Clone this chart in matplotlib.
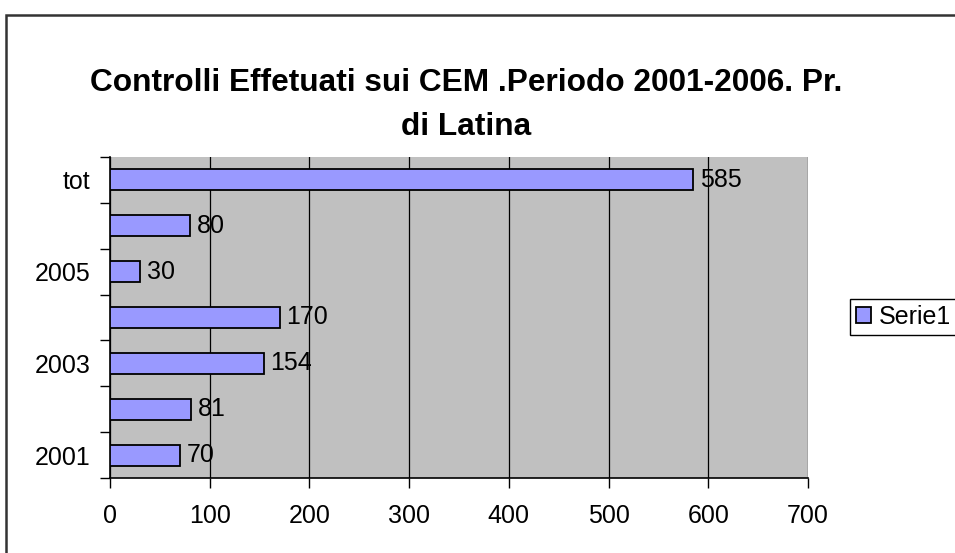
import numpy as np
import matplotlib.pyplot as plt
from matplotlib.patches import Rectangle

categories = ["2001", "2002", "2003", "2004", "2005", "2006", "tot"]
values = [70, 81, 154, 170, 30, 80, 585]
shown_labels = ["2001", "", "2003", "", "2005", "", "tot"]
series_name = "Serie1"
title = "Controlli Effetuati sui CEM .Periodo 2001-2006. Pr.\ndi Latina"

plt.rcParams['font.family'] = ['Liberation Sans', 'DejaVu Sans']

fig = plt.figure(figsize=(9.55, 5.53), dpi=100)
W, H = 955, 553

# outer chart border (cut off at right and bottom like the reference)
fig.patches.append(Rectangle((6 / W, -0.05), 1.1, (553 - 15) / H + 0.05,
                             transform=fig.transFigure, fill=False,
                             edgecolor="#333333", linewidth=1.8, clip_on=False))

ax = fig.add_axes([110 / W, (553 - 478) / H, 698 / W, 321 / H])
ax.set_facecolor("#C0C0C0")

y = np.arange(len(categories))
bars = ax.barh(y, values, height=0.46, color="#9999FF", edgecolor="black",
               linewidth=1.3, label=series_name, zorder=3)

for yi, v in zip(y, values):
    ax.annotate(str(v), (v, yi), xytext=(5, 0), textcoords="offset points",
                va="center", ha="left", fontsize=18, zorder=4)

ax.set_xlim(0, 700)
ax.set_ylim(-0.5, len(categories) - 0.5)
ax.set_xticks(np.arange(0, 701, 100))
ax.tick_params(axis="x", direction="out", length=7, width=1, pad=12, labelsize=18)
ax.grid(axis="x", color="black", linewidth=0.9, zorder=1)

# category ticks between bars, labels on every other category
ax.set_yticks(np.arange(-0.5, len(categories), 1.0))
ax.set_yticklabels([])
ax.tick_params(axis="y", which="major", direction="out", length=7, width=1)
ax.set_yticks(y, minor=True)
ax.set_yticklabels(shown_labels, minor=True)
ax.tick_params(axis="y", which="minor", length=0, pad=14, labelsize=18)

for s in ["top", "right"]:
    ax.spines[s].set_visible(False)
for s in ["left", "bottom"]:
    ax.spines[s].set_color("black")
    ax.spines[s].set_linewidth(1.2)

fig.text(466 / W, (553 - 105) / H, title, ha="center", va="center",
         fontsize=22.8, fontweight="bold", linespacing=1.62)

fig.legend(handles=[bars], labels=[series_name], loc="center left",
           bbox_to_anchor=(850 / W, (553 - 317) / H), fontsize=18,
           frameon=True, fancybox=False, edgecolor="black", framealpha=1,
           handlelength=0.6, handleheight=0.6, handletextpad=0.3,
           borderpad=0.25, borderaxespad=0)

fig.savefig("out.png")
